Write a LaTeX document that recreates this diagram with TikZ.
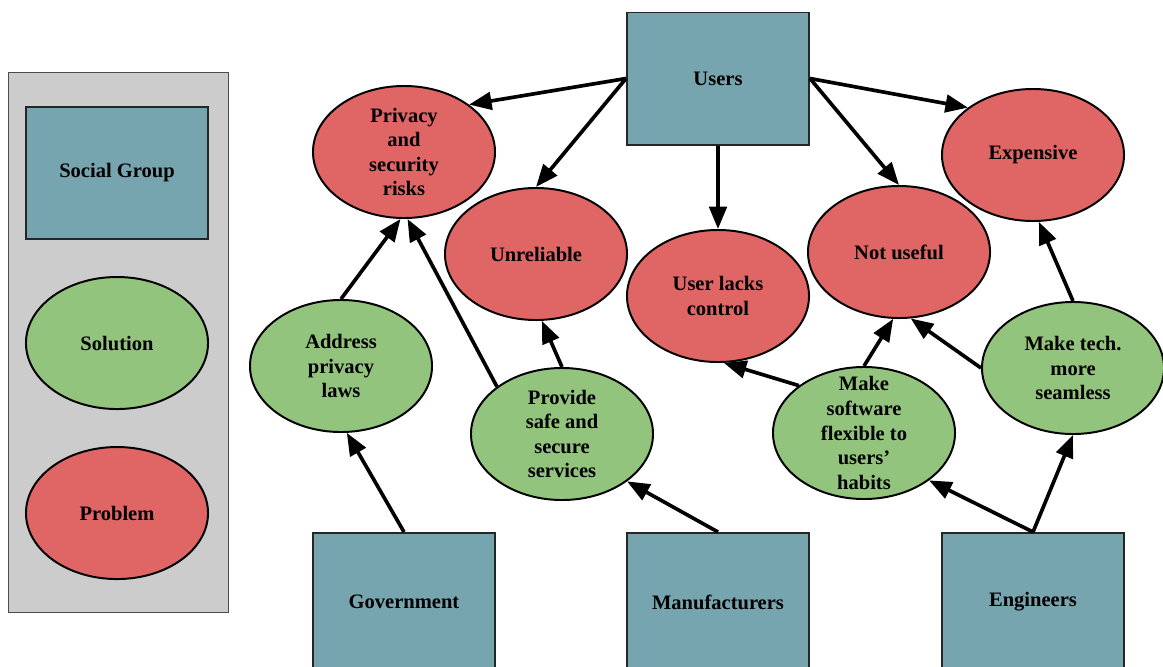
\documentclass[tikz,border=0pt]{standalone}
\usepackage{fontspec}
\setmainfont{Liberation Serif}
\usetikzlibrary{positioning, shapes.geometric, arrows.meta}
\definecolor{groupblue}{HTML}{76A5AF}
\definecolor{solgreen}{HTML}{93C47D}
\definecolor{probred}{HTML}{E06666}
\definecolor{legendgray}{HTML}{CCCCCC}

\begin{document}
\begin{tikzpicture}
    [x=0.025cm, y=-0.025cm,
    every node/.style={font=\fontsize{14.6}{17.5}\selectfont\bfseries, align=center},
    groupnode/.style={rectangle, draw=black!85, line width=1.4pt, fill=groupblue, minimum width=4.55cm, minimum height=3.3cm},
    solnode/.style={ellipse, draw=black, line width=1.4pt, fill=solgreen, minimum width=4.55cm, minimum height=3.3cm, inner sep=-20pt},
    probnode/.style={ellipse, draw=black, line width=1.4pt, fill=probred, minimum width=4.55cm, minimum height=3.3cm, inner sep=-20pt},
    arrow/.style={-{Triangle[length=16pt, width=12.5pt]}, line width=2.6pt},]

    \useasboundingbox (0,0) rectangle (1163,666);

    %Legend
    \node[draw=black!70, fill=legendgray, minimum width=5.5cm, minimum height=13.5cm] (legend) at (118,342) {};
    \node[groupnode] (legGroup) at (117,173) {Social Group};
    \node[solnode] (legSol) [below=0.9cm of legGroup] {Solution};
    \node[probnode] (legProb) [below=0.9cm of legSol] {Problem};

    %Social groups
    \node[groupnode] (Users) at (718,78.5) {Users};
    \node[groupnode, minimum height=3.45cm] (Government) at (404,602) {Government};
    \node[groupnode, minimum height=3.45cm] (Manufacturers) at (718,602) {Manufacturers};
    \node[groupnode, minimum height=3.45cm] (Engineers) at (1033,602) {Engineers};

    %Problems
    \node[probnode] (Privacy) at (404,152) {Privacy\\and\\security\\risks};
    \node[probnode] (Unreliable) at (536,254) {Unreliable};
    \node[probnode] (Lacks) at (718,296) {User lacks\\control};
    \node[probnode] (NotUseful) at (899,252) {Not useful};
    \node[probnode] (Expensive) at (1033,155) {Expensive};

    %Solutions
    \node[solnode] (Address) at (341,366) {Address\\privacy\\laws};
    \node[solnode] (Provide) at (562,434) {Provide\\safe and\\secure\\services};
    \node[solnode] (Software) at (864,433) {Make\\software\\flexible to\\users’\\habits};
    \node[solnode] (Seamless) at (1073,368) {Make tech.\\more\\seamless};

    %Arrows
    \draw[arrow] (Users.west) -- (Privacy.north east);
    \draw[arrow] (Users.west) -- (Unreliable.north);
    \draw[arrow] (Users.south) -- (Lacks.north);
    \draw[arrow] (Users.east) -- (NotUseful.north);
    \draw[arrow] (Users.east) -- (Expensive.north west);
    \draw[arrow] (Government.north) -- (Address.-85);
    \draw[arrow] (Address.north) -- (Privacy.-93);
    \draw[arrow] (Provide.north west) -- (Privacy.-87);
    \draw[arrow] (Provide.north) -- (Unreliable.-85);
    \draw[arrow] (Manufacturers.north) -- (Provide.south east);
    \draw[arrow] (Software.north west) -- (Lacks.-85);
    \draw[arrow] (Software.north) -- (NotUseful.-95);
    \draw[arrow] (Seamless.west) -- (NotUseful.-80);
    \draw[arrow] (Seamless.north) -- (Expensive.-85);
    \draw[arrow] (Engineers.north) -- (Seamless.south);
    \draw[arrow] (Engineers.north) -- (Software.south east);
\end{tikzpicture}
\end{document}
